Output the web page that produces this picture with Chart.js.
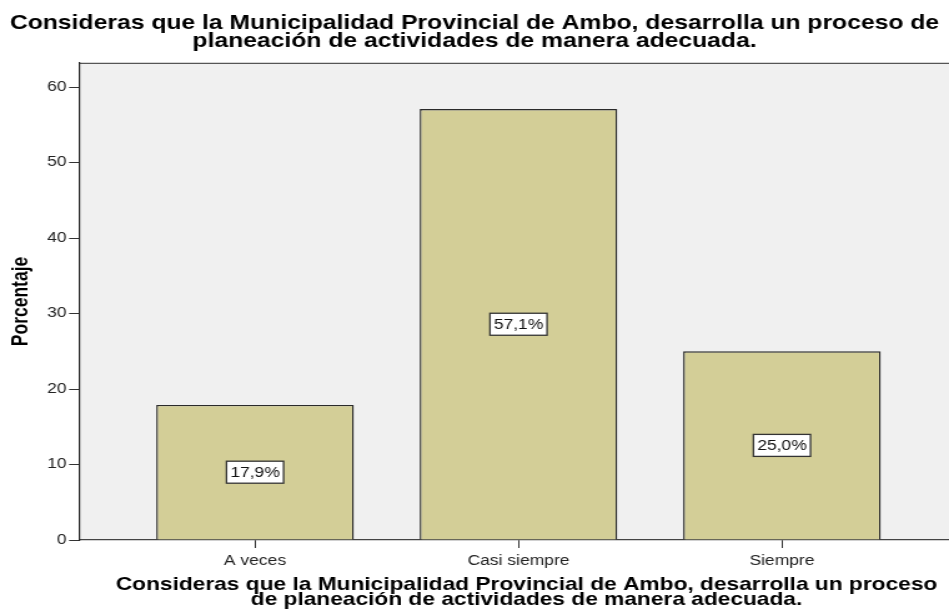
<!DOCTYPE html>
<html><head><meta charset="utf-8">
<script src="https://cdn.jsdelivr.net/npm/chart.js@4/dist/chart.umd.min.js"></script>
<style>
html,body{margin:0;padding:0;background:#fff;overflow:hidden;}
#wrap{width:760px;height:614px;transform:scaleX(1.24868);transform-origin:0 0;}
canvas{display:block;}
</style></head><body>
<div id="wrap"><canvas id="c" width="760" height="614"></canvas></div>
<script>
const titleLines = ['Consideras que la Municipalidad Provincial de Ambo, desarrolla un proceso de', 'planeación de actividades de manera adecuada.'];
const xTitleLines = ['Consideras que la Municipalidad Provincial de Ambo, desarrolla un proceso', 'de planeación de actividades de manera adecuada.'];
const yTitle = 'Porcentaje';
const categories = ['A veces', 'Casi siempre', 'Siempre'];
const percentages = [17.9, 57.1, 25.0];
const valueLabels = ['17,9%', '57,1%', '25,0%'];
const yTicks = [0, 10, 20, 30, 40, 50, 60];

const FONT = '"Liberation Sans", Arial, sans-serif';

const bgPlugin = {
  id: 'bg',
  beforeDraw(chart) {
    const {ctx, chartArea: a} = chart;
    ctx.save();
    ctx.fillStyle = '#f0f0f0';
    ctx.fillRect(a.left, a.top, a.right - a.left, a.bottom - a.top);
    ctx.strokeStyle = '#555';
    ctx.lineWidth = 1.2;
    ctx.beginPath();
    ctx.moveTo(a.left, a.top + 0.5);
    ctx.lineTo(a.right, a.top + 0.5);
    ctx.stroke();
    ctx.restore();
  }
};

const labelPlugin = {
  id: 'boxLabels',
  afterDatasetsDraw(chart) {
    const {ctx} = chart;
    const meta = chart.getDatasetMeta(0);
    ctx.save();
    ctx.font = '14px ' + FONT;
    ctx.textAlign = 'center';
    ctx.textBaseline = 'middle';
    meta.data.forEach((el, i) => {
      const cx = el.x;
      const cy = (el.y + el.base) / 2;
      const txt = valueLabels[i];
      const w = ctx.measureText(txt).width + 6;
      const h = 22;
      ctx.fillStyle = '#fff';
      ctx.fillRect(cx - w / 2, cy - h / 2, w, h);
      ctx.strokeStyle = '#333';
      ctx.lineWidth = 1.3;
      ctx.strokeRect(cx - w / 2, cy - h / 2, w, h);
      ctx.fillStyle = '#111';
      ctx.fillText(txt, cx, cy + 1);
    });
    ctx.restore();
  }
};

// bottom axis title, drawn a little right of the plot centre as in the original
const xTitlePlugin = {
  id: 'xTitle',
  afterDraw(chart) {
    const {ctx, chartArea: a} = chart;
    ctx.save();
    ctx.font = 'bold 18.2px ' + FONT;
    ctx.fillStyle = '#000';
    ctx.textAlign = 'center';
    ctx.textBaseline = 'middle';
    const cx = (a.left + a.right) / 2 + 10;
    xTitleLines.forEach((line, i) => {
      ctx.fillText(line, cx, a.bottom + 45 + i * 15);
    });
    ctx.restore();
  }
};

new Chart(document.getElementById('c'), {
  type: 'bar',
  data: {
    datasets: [{
      data: percentages.map((v, i) => ({x: i, y: v})),
      backgroundColor: '#d3ce97',
      borderColor: '#2a2a2a',
      borderWidth: 1.4,
      barPercentage: 0.75,
      categoryPercentage: 1
    }]
  },
  options: {
    responsive: false,
    animation: false,
    devicePixelRatio: 1,
    layout: {padding: 0},
    plugins: {
      legend: {display: false},
      tooltip: {enabled: false},
      title: {
        display: true,
        text: titleLines,
        color: '#000',
        font: {family: FONT, size: 19.8, weight: 'bold', lineHeight: 0.86},
        padding: {top: 15.5, bottom: 13.4}
      }
    },
    scales: {
      x: {
        type: 'linear',
        offset: false,
        min: -0.668,
        max: 2.634,
        afterBuildTicks: s => { s.ticks = categories.map((c, i) => ({value: i})); },
        afterFit: s => { s.height = 74; },
        ticks: {
          callback: v => categories[v],
          font: {family: FONT, size: 14},
          color: '#222',
          padding: 5,
          autoSkip: false,
          maxRotation: 0
        },
        grid: {offset: false, drawOnChartArea: false, tickLength: 8, color: '#333'},
        border: {display: true, color: '#444', width: 1.2},
        title: {display: false}
      },
      y: {
        min: 0,
        max: 63.2,
        afterBuildTicks: s => { s.ticks = yTicks.map(v => ({value: v})); },
        afterFit: s => { s.width = 63.3; },
        ticks: {font: {family: FONT, size: 14}, color: '#222', padding: 2},
        grid: {drawOnChartArea: false, tickLength: 8, color: '#333'},
        border: {display: true, color: '#222', width: 1.2},
        title: {
          display: true,
          text: yTitle,
          color: '#000',
          font: {family: FONT, size: 17.5, weight: 'bold'},
          padding: {top: 7}
        }
      }
    }
  },
  plugins: [bgPlugin, labelPlugin, xTitlePlugin]
});
</script>
</body></html>
